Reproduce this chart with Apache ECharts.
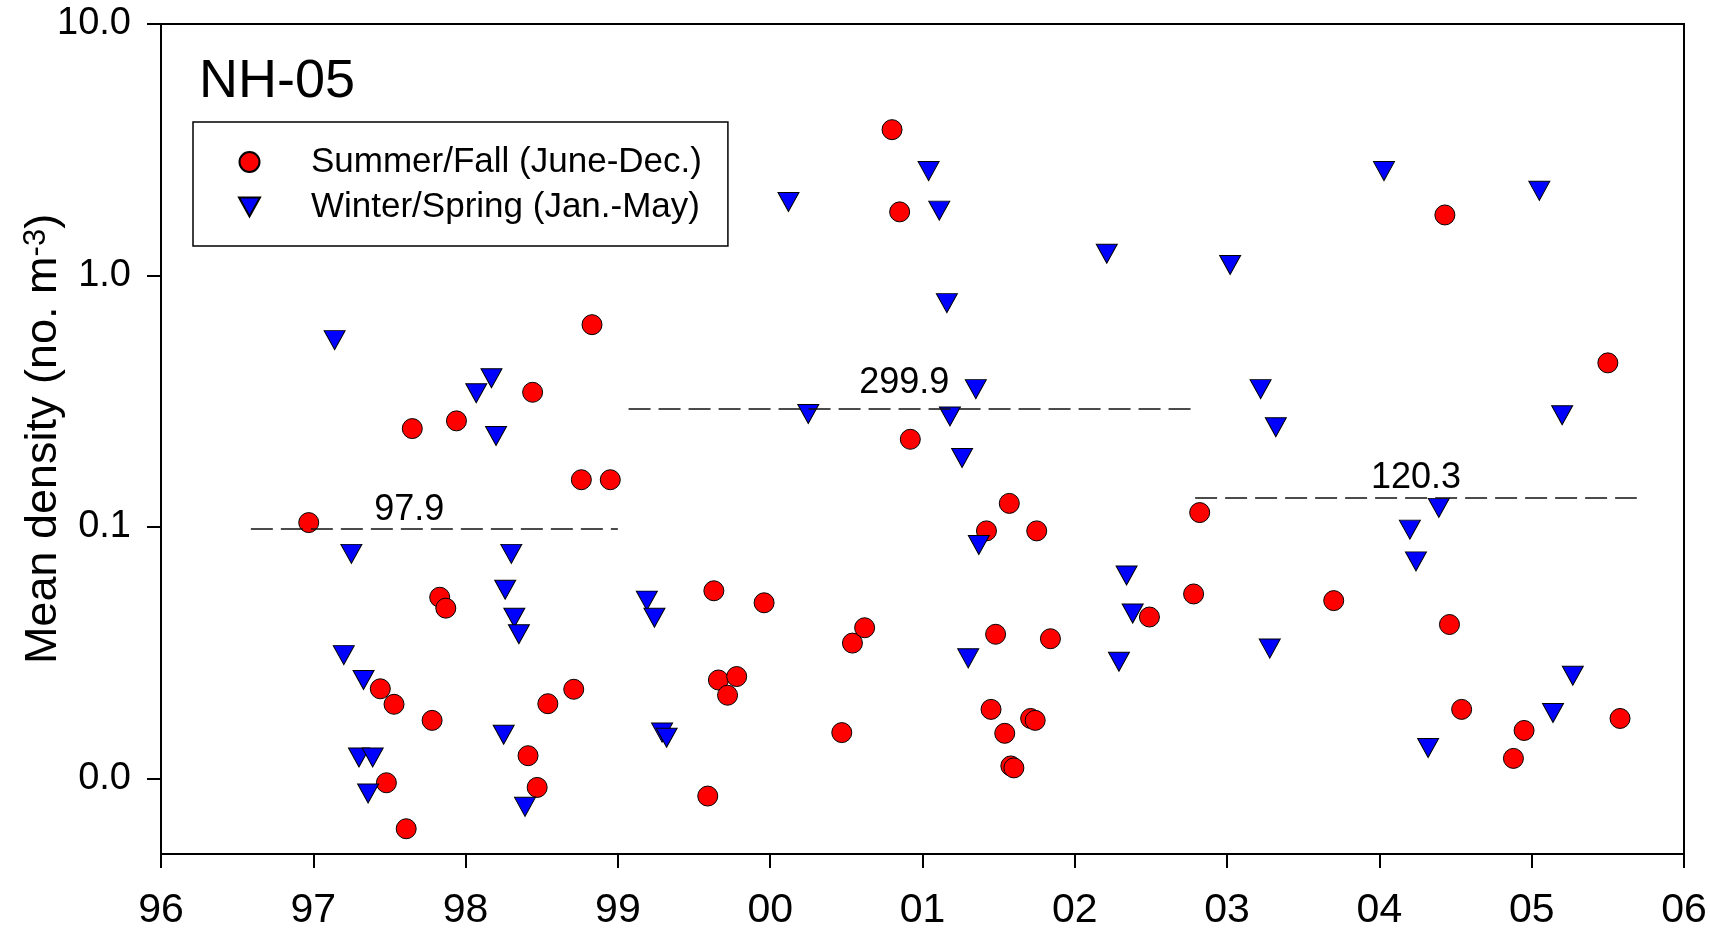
<!DOCTYPE html>
<html>
<head>
<meta charset="utf-8">
<title>NH-05</title>
<script src="https://cdn.jsdelivr.net/npm/echarts@6/dist/echarts.min.js"></script>
<style>
  html, body { margin: 0; padding: 0; background: #fff; }
  #main { width: 1710px; height: 935px; }
</style>
</head>
<body>
<div id="main"></div>
<script>
// Summer/Fall (June-Dec.) samples: decimal year, density
const summerYear = [1996.97, 1997.65, 1997.94, 1998.44, 1998.83, 1998.76, 1998.95, 1997.83, 1997.87, 1997.44,
  1997.53, 1997.78, 1997.48, 1997.61, 1998.54, 1998.71, 1998.41, 1998.47, 1999.63, 1999.96,
  1999.66, 1999.78, 1999.72, 1999.59, 2000.80, 2000.85, 2000.92, 2000.47, 2000.54, 2000.62,
  2001.57, 2001.42, 2001.75, 2001.48, 2001.84, 2001.45, 2001.54, 2001.71, 2001.74, 2001.58,
  2001.60, 2002.49, 2002.78, 2002.82, 2003.70, 2004.43, 2004.46, 2004.54, 2004.95, 2004.88,
  2005.50, 2005.58];
const summerDensity = [0.104, 0.246, 0.264, 0.343, 0.637, 0.154, 0.154, 0.0525, 0.0475, 0.0227,
  0.0197, 0.0170, 0.0096, 0.0063, 0.0198, 0.0226, 0.0123, 0.0092, 0.0557, 0.0499,
  0.0246, 0.0254, 0.0214, 0.0085, 3.80, 1.79, 0.223, 0.0152, 0.0345, 0.0397,
  0.124, 0.0964, 0.0964, 0.0374, 0.0359, 0.0188, 0.0151, 0.0173, 0.0170, 0.0112,
  0.0110, 0.0438, 0.0541, 0.114, 0.0509, 1.74, 0.0409, 0.0188, 0.0155, 0.0120,
  0.449, 0.0173];

// Winter/Spring (Jan.-May) samples
const winterYear = [1997.14, 1997.25, 1997.20, 1997.33, 1997.30, 1997.39, 1997.36, 1998.07, 1998.17, 1998.20,
  1998.30, 1998.26, 1998.32, 1998.35, 1998.25, 1998.39, 1999.19, 1999.24, 1999.29, 1999.32,
  2000.12, 2000.25, 2001.04, 2001.11, 2001.16, 2001.35, 2001.18, 2001.26, 2001.37, 2001.30,
  2002.21, 2002.34, 2002.38, 2002.29, 2003.02, 2003.22, 2003.32, 2003.28, 2004.03, 2004.20,
  2004.24, 2004.39, 2004.32, 2005.05, 2005.20, 2005.27, 2005.14];
const winterDensity = [0.553, 0.0781, 0.0309, 0.0246, 0.0121, 0.0121, 0.0087, 0.340, 0.390, 0.230,
  0.0781, 0.0562, 0.0435, 0.0374, 0.0149, 0.0077, 0.0509, 0.0435, 0.0152, 0.0145,
  1.96, 0.281, 2.60, 1.81, 0.776, 0.353, 0.275, 0.188, 0.0847, 0.0300,
  1.22, 0.0641, 0.0452, 0.0291, 1.10, 0.353, 0.249, 0.0328, 2.60, 0.0975,
  0.0729, 0.119, 0.0132, 2.17, 0.278, 0.0256, 0.0182];

// period means (dashed lines) and where their labels sit
const periodStart = [1996.59, 1999.07, 2002.79];
const periodEnd = [1999.00, 2002.78, 2005.69];
const periodMean = [0.0985, 0.294, 0.131];
const periodLabel = ['97.9', '299.9', '120.3'];
const labelYear = [1997.63, 2000.88, 2004.24];
const labelDensity = [0.0993, 0.316, 0.133];

const yearMin = 1996;
const yearMax = 2006;
const densityMin = 0.005;
const densityMax = 10;

const font = "'Liberation Sans', Arial, sans-serif";

const summerData = summerYear.map((x, i) => [x, summerDensity[i]]);
const winterData = winterYear.map((x, i) => [x, winterDensity[i]]);
const meanLines = periodMean.map((m, i) => [
  { coord: [periodStart[i], m] },
  { coord: [periodEnd[i], m] }
]);
const meanLabels = periodLabel.map((t, i) => ({ coord: [labelYear[i], labelDensity[i]], value: t }));

const chart = echarts.init(document.getElementById('main'));
chart.setOption({
  animation: false,
  backgroundColor: '#fff',
  textStyle: { fontFamily: font, color: '#000' },
  title: {
    text: 'NH-05',
    left: 194,
    top: 50,
    textStyle: { fontFamily: font, fontSize: 54, fontWeight: 'normal', color: '#000' }
  },
  legend: {
    data: [
      { name: 'Summer/Fall (June-Dec.)', icon: 'circle' },
      { name: 'Winter/Spring (Jan.-May)', icon: 'path://M0,0L21,0L10.5,19Z' }
    ],
    orient: 'vertical',
    left: 193,
    top: 122,
    padding: [22, 26, 21, 45],
    itemWidth: 21,
    itemHeight: 20,
    itemGap: 9,
    borderColor: '#000',
    borderWidth: 1.5,
    textStyle: { fontFamily: font, fontSize: 35, lineHeight: 36, color: '#000', padding: [0, 0, 0, 46] }
  },
  grid: {
    left: 161, right: 26, top: 24, bottom: 81,
    containLabel: false,
    outerBoundsMode: 'none',
    show: true, borderColor: '#000', borderWidth: 2
  },
  xAxis: {
    type: 'value',
    min: yearMin,
    max: yearMax,
    interval: 1,
    axisLine: { lineStyle: { color: '#000', width: 2 } },
    axisTick: { length: 14, lineStyle: { color: '#000', width: 2 } },
    splitLine: { show: false },
    axisLabel: {
      margin: 36,
      fontSize: 41,
      color: '#000',
      fontFamily: font,
      formatter: v => String(Math.round(v) % 100).padStart(2, '0')
    }
  },
  yAxis: {
    type: 'log',
    logBase: 10,
    min: densityMin,
    max: densityMax,
    name: '{a|Mean density (no. m}{sup|-3}{a|)}',
    nameLocation: 'middle',
    nameGap: 95,
    nameMoveOverlap: false,
    nameTextStyle: {
      rich: {
        a: { fontFamily: font, fontSize: 45, color: '#000' },
        sup: { fontFamily: font, fontSize: 31, color: '#000', verticalAlign: 'top' }
      }
    },
    axisLine: { show: true, lineStyle: { color: '#000', width: 2 } },
    axisTick: { show: true, length: 14, lineStyle: { color: '#000', width: 2 } },
    splitLine: { show: false },
    minorTick: { show: false },
    axisLabel: {
      margin: 30,
      fontSize: 38,
      color: '#000',
      fontFamily: font,
      showMinLabel: false,
      formatter: v => v.toFixed(1)
    }
  },
  series: [
    {
      name: 'means',
      type: 'scatter',
      data: [],
      z: 1,
      silent: true,
      markLine: {
        silent: true,
        symbol: ['none', 'none'],
        lineStyle: { type: [22, 8], color: '#111', width: 1.5 },
        label: { show: false },
        emphasis: { disabled: true },
        data: meanLines
      },
      markPoint: {
        silent: true,
        symbol: 'circle',
        symbolSize: 0,
        label: {
          show: true,
          position: 'top',
          distance: 0,
          formatter: '{c}',
          fontFamily: font,
          fontSize: 36,
          color: '#000'
        },
        emphasis: { disabled: true },
        data: meanLabels
      }
    },
    {
      name: 'Summer/Fall (June-Dec.)',
      type: 'scatter',
      symbol: 'circle',
      symbolSize: 20,
      itemStyle: { color: '#ff0000', borderColor: '#000', borderWidth: 1, opacity: 1 },
      data: summerData
    },
    {
      name: 'Winter/Spring (Jan.-May)',
      type: 'scatter',
      symbol: 'triangle',
      symbolRotate: 180,
      symbolSize: [21, 19],
      itemStyle: { color: '#0000ff', borderColor: '#000', borderWidth: 1, opacity: 1 },
      data: winterData
    }
  ]
});
</script>
</body>
</html>
